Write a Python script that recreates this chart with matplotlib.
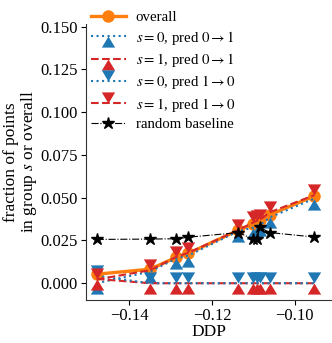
import numpy as np
import matplotlib
matplotlib.use('Agg')
import matplotlib.pyplot as plt

plt.rcParams['font.family'] = ['Liberation Serif', 'DejaVu Serif']
plt.rcParams['mathtext.fontset'] = 'stix'

# DDP values (x) and fractions
ddp = [-0.1479, -0.1350, -0.1286, -0.1257, -0.1136, -0.1100, -0.1092, -0.1084, -0.1060, -0.0952]
overall = [0.0053, 0.0082, 0.0152, 0.0175, 0.0310, 0.0345, 0.0360, 0.0368, 0.0400, 0.0510]
s0_01 = [0.0000, 0.0068, 0.0145, 0.0162, 0.0305, 0.0325, 0.0335, 0.0340, 0.0385, 0.0495]
s1_01 = [0.0025, 0.0, 0.0, 0.0, 0.0, 0.0, 0.0, 0.0, 0.0, 0.0]
s0_10 = [0.0043, 0.0, 0.0, 0.0, 0.0, 0.0, 0.0, 0.0, 0.0, 0.0]
s1_10 = [0.0022, 0.0076, 0.0155, 0.0178, 0.0312, 0.0355, 0.0365, 0.0370, 0.0415, 0.0515]
baseline = [0.0256, 0.0258, 0.0260, 0.0269, 0.0296, 0.0258, 0.0256, 0.0326, 0.0296, 0.0270]

# triangles anchored at their tip
tri_up = [(0, 0), (-0.6, -1), (0.6, -1)]
tri_down = [(0, 0), (-0.6, 1), (0.6, 1)]
TRI_MS = 16

fig = plt.figure(figsize=(3.32, 3.43), dpi=100)
ax = fig.add_axes([86/332, 43/343, 245/332, 276/343])

ax.plot(ddp, overall, '-', color='#ff7f0e', lw=2.4, marker='o', ms=8, label='overall')
ax.plot(ddp, s0_01, ':', color='#1f77b4', lw=1.5, marker=tri_up, ms=TRI_MS, mew=0,
        label=r'$s=0$, pred $0\rightarrow1$')
ax.plot(ddp, s1_01, '--', color='#d62728', lw=1.5, marker=tri_up, ms=TRI_MS, mew=0,
        label=r'$s=1$, pred $0\rightarrow1$')
ax.plot(ddp, s0_10, ':', color='#1f77b4', lw=1.5, marker=tri_down, ms=TRI_MS, mew=0,
        label=r'$s=0$, pred $1\rightarrow0$')
ax.plot(ddp, s1_10, '--', color='#d62728', lw=1.5, marker=tri_down, ms=TRI_MS, mew=0,
        label=r'$s=1$, pred $1\rightarrow0$')
ax.plot(ddp, baseline, '-.', color='black', lw=0.8, marker='*', ms=9,
        label='random baseline')

ax.set_xlim(-0.1505, -0.0912)
ax.set_ylim(-0.0098, 0.1515)
ax.set_xticks([-0.14, -0.12, -0.10])
ax.set_yticks([0.0, 0.025, 0.05, 0.075, 0.1, 0.125, 0.15])
ax.set_yticklabels(['0.000', '0.025', '0.050', '0.075', '0.100', '0.125', '0.150'])
ax.tick_params(labelsize=12, length=3.5, width=0.8, pad=2.5)
ax.set_xlabel('DDP', fontsize=12.5, labelpad=0)
ax.set_ylabel('fraction of points\nin group $s$ or overall', fontsize=12.5, labelpad=1,
              linespacing=1.0)
for side in ['top', 'right']:
    ax.spines[side].set_visible(False)
for side in ['left', 'bottom']:
    ax.spines[side].set_color('#333333')
    ax.spines[side].set_linewidth(0.8)

ax.legend(loc='upper left', bbox_to_anchor=(88/332, 1 - 8/343), bbox_transform=fig.transFigure,
          frameon=False, fontsize=10.7, handlelength=2.35, labelspacing=0.29,
          borderpad=0.2, borderaxespad=0.0, handletextpad=0.67)

fig.savefig('out.png', dpi=100)
